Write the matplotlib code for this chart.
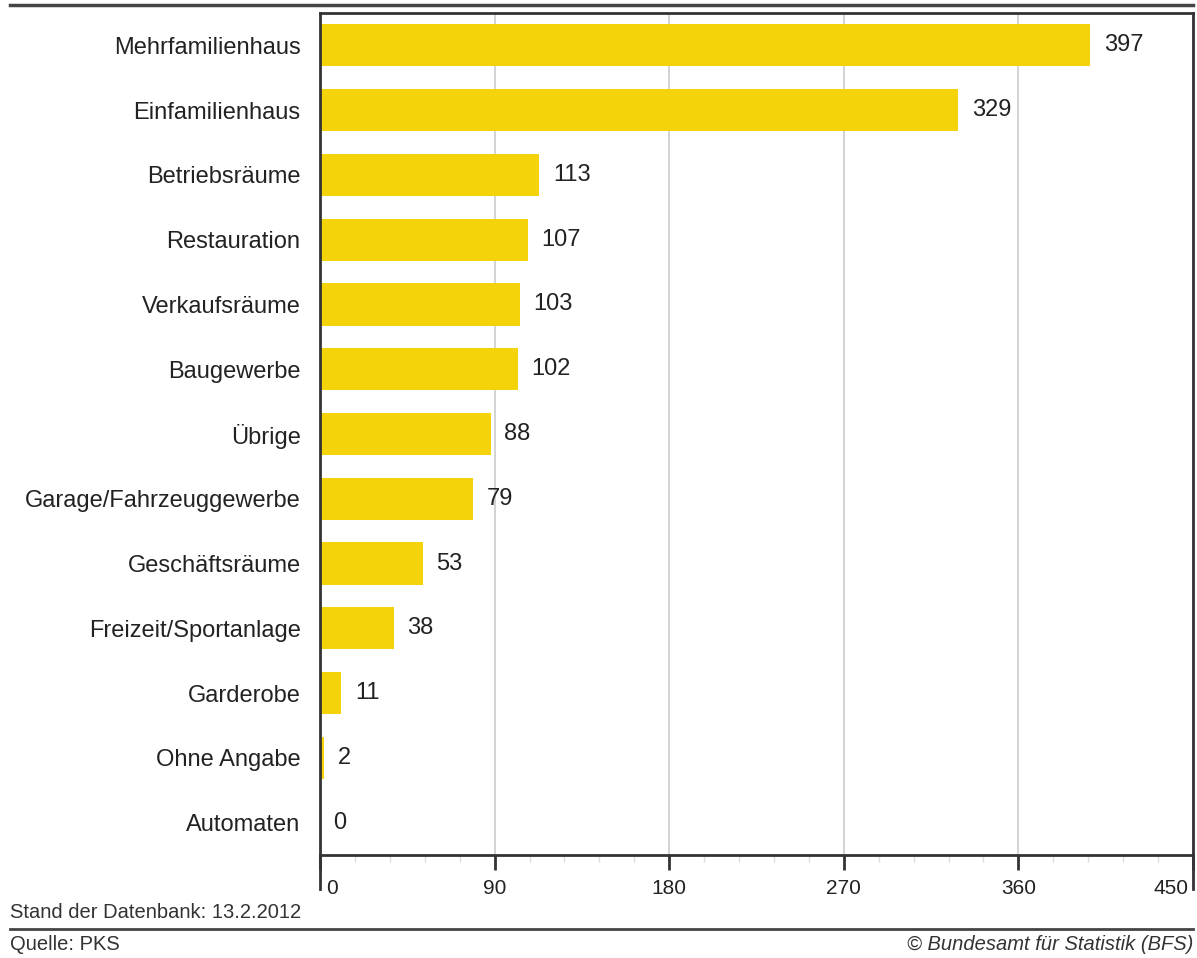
import matplotlib
matplotlib.use("Agg")
from matplotlib import pyplot as plt
from matplotlib.lines import Line2D
from matplotlib.transforms import ScaledTranslation

plt.rcParams['font.family'] = ['Liberation Sans', 'DejaVu Sans']

categories = ["Mehrfamilienhaus", "Einfamilienhaus", "Betriebsräume", "Restauration",
              "Verkaufsräume", "Baugewerbe", "Übrige", "Garage/Fahrzeuggewerbe",
              "Geschäftsräume", "Freizeit/Sportanlage", "Garderobe", "Ohne Angabe",
              "Automaten"]
values = [397, 329, 113, 107, 103, 102, 88, 79, 53, 38, 11, 2, 0]
major_ticks = [0, 90, 180, 270, 360, 450]
minor_ticks = [18, 36, 54, 72, 108, 126, 144, 162, 198, 216, 234, 252,
               288, 306, 324, 342, 378, 396, 414, 432]

bar_color = "#F5D30B"
dark = "#333333"

fig = plt.figure(figsize=(11.97, 9.58), dpi=100)
ax = fig.add_axes([320/1197, 1 - 855/958, 873/1197, 842/958])

ypos = list(range(len(categories)))
ax.barh(ypos, values, height=0.65, color=bar_color, zorder=2)
for y, v in zip(ypos, values):
    ax.text(v + 7, y, str(v), va='center', ha='left', fontsize=17, color="#222222")

ax.set_xlim(0, 450)
ax.set_ylim(len(categories) - 0.5, -0.5)
ax.set_yticks(ypos)
ax.set_yticklabels(categories, fontsize=17, color="#222222")
ax.tick_params(axis='y', length=0, pad=14)

ax.set_xticks(major_ticks)
ax.set_xticks(minor_ticks, minor=True)
ax.tick_params(axis='x', which='major', length=11, width=2, color=dark,
               labelsize=15, pad=6, labelcolor="#222222")
ax.tick_params(axis='x', which='minor', length=5, width=1, color="#dddddd")
labels = ax.get_xticklabels()
labels[0].set_ha('left')
labels[0].set_transform(labels[0].get_transform() + ScaledTranslation(6/100, 0, fig.dpi_scale_trans))
labels[-1].set_ha('right')
labels[-1].set_transform(labels[-1].get_transform() + ScaledTranslation(-5/100, 0, fig.dpi_scale_trans))

ax.grid(axis='x', which='major', color="#cccccc", linewidth=1.2, zorder=0)
ax.set_axisbelow(True)

for side in ['left', 'right', 'top', 'bottom']:
    ax.spines[side].set_color(dark)
    ax.spines[side].set_linewidth(2)

# spines running down past the axis line
for xf in [320/1197, 1193/1197]:
    fig.add_artist(Line2D([xf, xf], [1 - 855/958, 1 - 889/958], color=dark, linewidth=2))

# header and footer rules
fig.add_artist(Line2D([10/1197, 1193/1197], [1 - 5/958, 1 - 5/958], color="#444444", linewidth=2.5))
fig.add_artist(Line2D([10/1197, 1193/1197], [1 - 929/958, 1 - 929/958], color="#444444", linewidth=2))

fig.text(10/1197, 1 - 913/958, "Stand der Datenbank: 13.2.2012", fontsize=14.5,
         color="#333333", va='center', ha='left')
fig.text(10/1197, 1 - 945/958, "Quelle: PKS", fontsize=14.5,
         color="#333333", va='center', ha='left')
fig.text(1193/1197, 1 - 945/958, "© Bundesamt für Statistik (BFS)", fontsize=14.5,
         color="#333333", va='center', ha='right', style='italic')

fig.savefig("out.png", dpi=100)
